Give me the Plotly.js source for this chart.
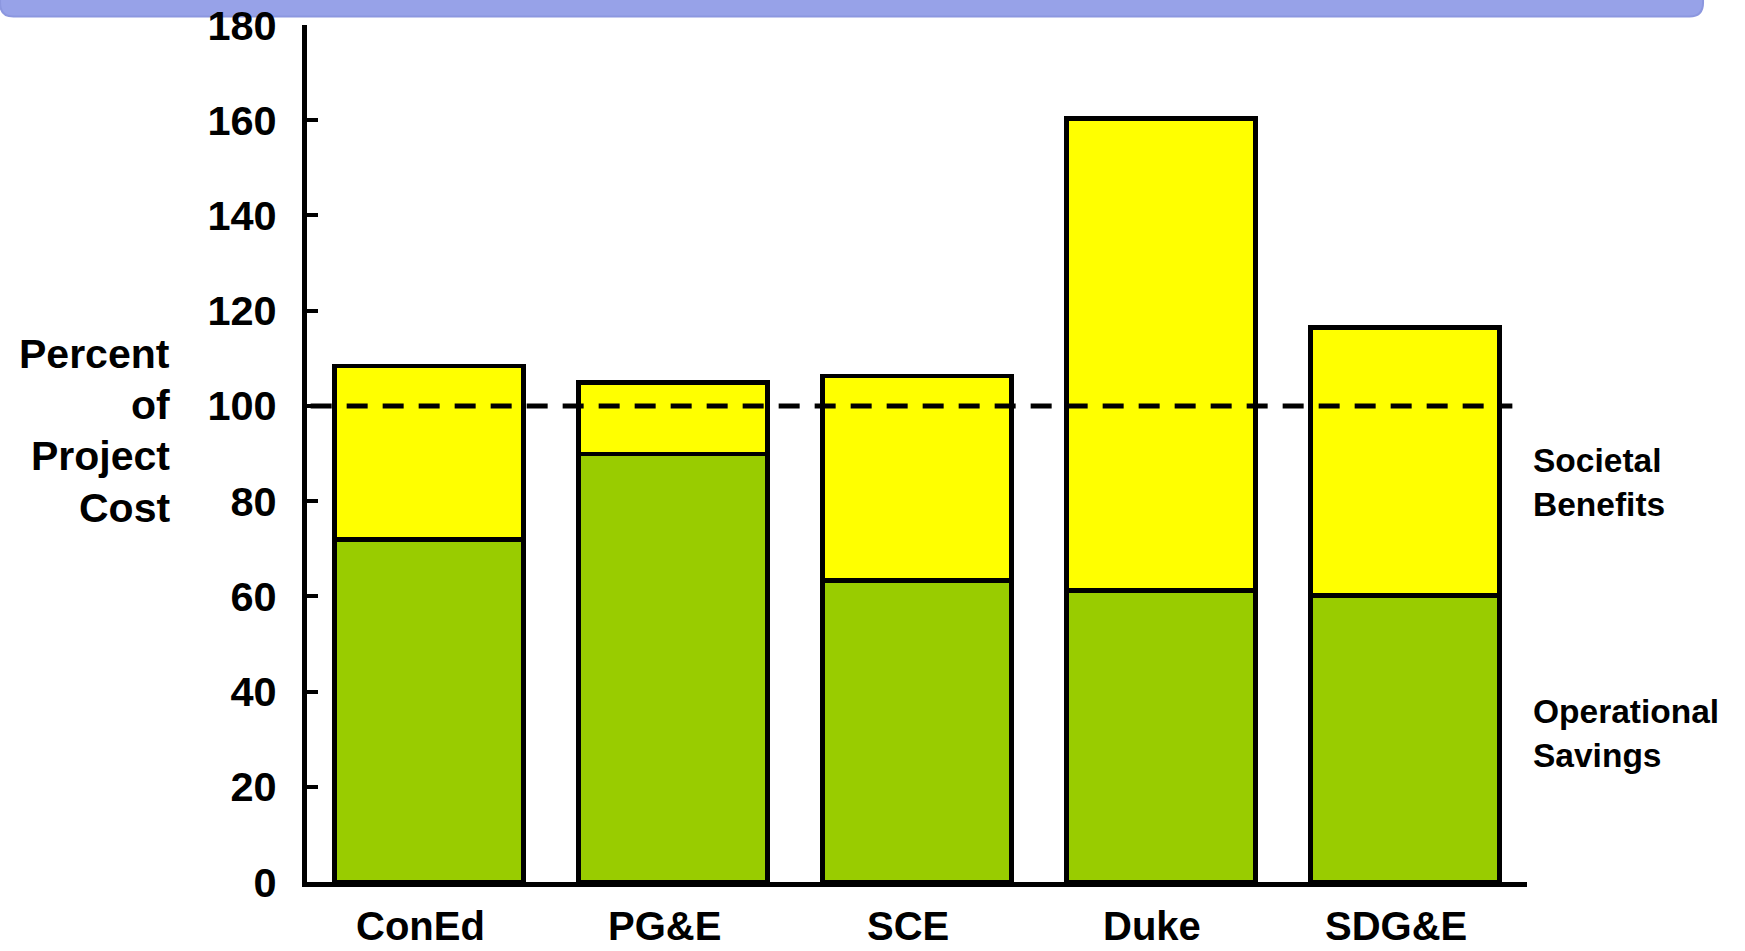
<!DOCTYPE html>
<html>
<head>
<meta charset="utf-8">
<script src="https://cdn.plot.ly/plotly-3.0.1.min.js"></script>
<style>
  html, body { margin: 0; padding: 0; background: #ffffff; }
  #chart { width: 1745px; height: 951px; }
</style>
</head>
<body>
<div id="chart"></div>
<script>
// ---- data ----
const utilities = ["ConEd", "PG&E", "SCE", "Duke", "SDG&E"];
const operationalSavings = [71.9, 89.9, 63.3, 61.2, 60.2];
const societalBenefits = [36.5, 15.0, 43.0, 99.2, 56.3];
const yTickValues = [0, 20, 40, 60, 80, 100, 120, 140, 160, 180];
const breakEven = 100;
const yTitleLines = ["Percent", "of", "Project", "Cost"];

const FONT = "Liberation Sans, Arial, sans-serif";

const traces = [
  {
    type: "bar",
    name: "Operational Savings",
    x: utilities,
    y: operationalSavings,
    width: 0.774,
    marker: { color: "#99CC00", line: { color: "#000000", width: 4.5 } },
    hoverinfo: "skip"
  },
  {
    type: "bar",
    name: "Societal Benefits",
    x: utilities,
    y: societalBenefits,
    width: 0.774,
    marker: { color: "#FFFF00", line: { color: "#000000", width: 4.5 } },
    hoverinfo: "skip"
  }
];

// banner geometry (paper coordinates)
const bx0 = -0.2516, bx1 = 1.1443, byTop = 1.04, byBot = 1.0099, rx = 0.011, ry = 0.016;
const bannerPath =
  `M ${bx0},${byTop} L ${bx1},${byTop} L ${bx1},${byBot + ry} ` +
  `Q ${bx1},${byBot} ${bx1 - rx},${byBot} L ${bx0 + rx},${byBot} ` +
  `Q ${bx0},${byBot} ${bx0},${byBot + ry} Z`;

const boldFont = (size) => ({ family: FONT, size: size, weight: "bold", color: "#000000" });

// category labels under the bars (slightly left of bar centres, as in the reference)
const categoryLabels = utilities.map((u) => ({
  xref: "x", yref: "y",
  x: u, y: 0,
  xshift: -9, yshift: -44,
  xanchor: "center", yanchor: "middle",
  showarrow: false,
  text: u,
  font: boldFont(40)
}));

// y-axis title, one annotation per line (right aligned)
const titleTopPx = 354, titleStepPx = 51.2, plotTopPx = 24.5, plotHpx = 858;
const yTitleAnns = yTitleLines.map((line, i) => ({
  xref: "paper", yref: "paper",
  x: -0.1105,
  y: 1 - (titleTopPx + i * titleStepPx - plotTopPx) / plotHpx,
  xanchor: "right", yanchor: "middle",
  align: "right",
  showarrow: false,
  text: line,
  font: boldFont(41)
}));

const layout = {
  width: 1745,
  height: 951,
  margin: { l: 307, r: 218, t: 24.5, b: 68.5 },
  paper_bgcolor: "#ffffff",
  plot_bgcolor: "#ffffff",
  barmode: "stack",
  showlegend: false,
  font: { family: FONT, color: "#000000" },
  xaxis: {
    type: "category",
    range: [-0.5, 4.5],
    showgrid: false,
    zeroline: false,
    showline: true,
    linecolor: "#000000",
    linewidth: 5,
    ticks: "",
    showticklabels: false,
    fixedrange: true
  },
  yaxis: {
    range: [0, 180],
    tickvals: yTickValues,
    ticktext: yTickValues.map(String),
    showgrid: false,
    zeroline: false,
    showline: true,
    linecolor: "#000000",
    linewidth: 5,
    ticks: "inside",
    ticklen: 11,
    tickwidth: 4,
    tickcolor: "#000000",
    ticklabelstandoff: 17,
    tickfont: boldFont(41.5),
    fixedrange: true
  },
  shapes: [
    {
      type: "path",
      xref: "paper", yref: "paper",
      path: bannerPath,
      fillcolor: "#97A2E8",
      line: { color: "#8C97DF", width: 2 },
      layer: "below"
    },
    {
      type: "line",
      xref: "paper", yref: "y",
      x0: 0.003, x1: 0.988,
      y0: breakEven, y1: breakEven,
      line: { color: "#000000", width: 5, dash: "21px,15px" },
      layer: "above"
    }
  ],
  annotations: [
    ...yTitleAnns,
    ...categoryLabels,
    {
      xref: "paper", yref: "paper",
      x: 1.003, y: 0.4662,
      xanchor: "left", yanchor: "middle",
      align: "left",
      showarrow: false,
      text: "Societal<br>Benefits",
      font: boldFont(33.5)
    },
    {
      xref: "paper", yref: "paper",
      x: 1.003, y: 0.1734,
      xanchor: "left", yanchor: "middle",
      align: "left",
      showarrow: false,
      text: "Operational<br>Savings",
      font: boldFont(33.5)
    }
  ]
};

Plotly.newPlot("chart", traces, layout, { displayModeBar: false, staticPlot: true });
</script>
</body>
</html>
